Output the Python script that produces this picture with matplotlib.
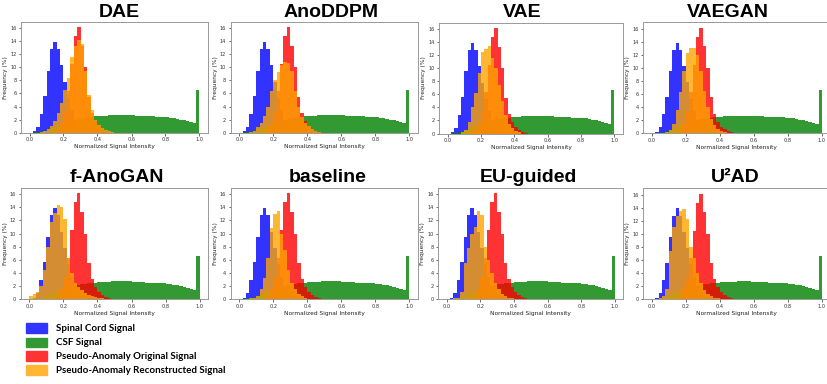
import numpy as np
import matplotlib
matplotlib.use("Agg")
import matplotlib.pyplot as plt
from matplotlib.patches import Rectangle

# ---------------- data (percent per bin, bins of width 0.02 from 0 to 1) ----------------
bin_edges = [round(i * 0.02, 2) for i in range(51)]

spinal_cord = [0.0, 0.2, 0.9, 2.9, 5.6, 9.5, 12.8, 13.9, 12.8, 10.3,
               7.8, 5.3, 3.4, 2.0, 1.1, 0.5, 0.25, 0.1, 0.05, 0.0] + [0.0] * 30

csf = [0.0, 0.05, 0.1, 0.2, 0.3, 0.5, 0.7, 0.9, 1.1, 1.3,
       1.5, 1.7, 1.9, 2.0, 2.15, 2.25, 2.35, 2.4, 2.45, 2.5,
       2.55, 2.6, 2.62, 2.65, 2.68, 2.7, 2.72, 2.72, 2.7, 2.68,
       2.65, 2.62, 2.6, 2.56, 2.52, 2.5, 2.48, 2.45, 2.42, 2.4,
       2.35, 2.3, 2.2, 2.1, 2.0, 1.9, 1.75, 1.6, 1.45, 6.6]

pseudo_original = [0.0] * 7 + [0.2, 0.6, 1.5, 3.3, 6.3, 10.5, 14.8, 16.2, 13.3,
                                10.0, 5.5, 3.0, 1.8, 1.0, 0.6, 0.3, 0.15] + [0.0] * 26

recon_dae = [0.0, 0.0, 0.0, 0.1, 0.3, 0.6, 1.0, 1.8, 3.0, 4.5,
             6.5, 8.3, 11.5, 13.3, 14.2, 13.6, 9.4, 5.8, 3.5, 2.0,
             1.2, 0.7, 0.4, 0.2, 0.1] + [0.0] * 25
recon_anoddpm = [0.0, 0.0, 0.0, 0.1, 0.3, 0.8, 1.5, 2.5, 4.0, 6.3,
                 8.0, 9.3, 10.4, 10.8, 10.6, 9.5, 6.3, 3.9, 2.4, 1.5,
                 1.0, 0.6, 0.3, 0.15] + [0.0] * 26
recon_vae = [0.0, 0.0, 0.0, 0.0, 0.2, 0.6, 1.8, 4.0, 6.2, 9.3,
             12.5, 13.0, 13.4, 11.5, 10.0, 7.5, 5.0, 2.8, 1.5, 0.8,
             0.4, 0.2] + [0.0] * 28
recon_vaegan = [0.0, 0.0, 0.0, 0.0, 0.2, 0.5, 1.5, 3.5, 6.3, 9.5,
                12.3, 13.0, 13.0, 12.0, 9.5, 6.5, 4.0, 2.2, 1.2, 0.6,
                0.3, 0.15] + [0.0] * 28
recon_fanogan = [0.5, 0.7, 1.1, 2.0, 4.5, 8.0, 11.8, 13.2, 14.3, 14.0,
                 12.2, 6.3, 4.0, 2.5, 1.8, 1.3, 0.9, 0.6, 0.4, 0.25,
                 0.15, 0.1] + [0.0] * 28
recon_baseline = [0.0, 0.0, 0.0, 0.1, 0.2, 0.5, 1.5, 3.2, 6.3, 10.9,
                  13.0, 13.5, 10.0, 7.5, 4.5, 2.5, 1.5, 0.8, 0.4, 0.2] + [0.0] * 30
recon_euguided = [0.0, 0.0, 0.1, 0.2, 1.0, 5.5, 7.8, 10.0, 11.0, 13.5,
                  12.8, 8.0, 6.0, 4.0, 2.5, 1.5, 0.8, 0.4, 0.2, 0.1] + [0.0] * 30
recon_u2ad = [0.0, 0.0, 0.2, 0.4, 1.5, 7.4, 11.1, 12.8, 13.5, 13.8,
              12.3, 8.0, 6.3, 4.0, 2.5, 1.4, 0.8, 0.4, 0.2, 0.1] + [0.0] * 30

model_names = ["DAE", "AnoDDPM", "VAE", "VAEGAN",
               "f-AnoGAN", "baseline", "EU-guided", "U²AD"]
reconstructions = [recon_dae, recon_anoddpm, recon_vae, recon_vaegan,
                   recon_fanogan, recon_baseline, recon_euguided, recon_u2ad]

legend_labels = ["Spinal Cord Signal", "CSF Signal",
                 "Pseudo-Anomaly Original Signal", "Pseudo-Anomaly Reconstructed Signal"]
colors = ["blue", "green", "red", "orange"]
x_ticks = [0.0, 0.2, 0.4, 0.6, 0.8, 1.0]
y_ticks = [0, 2, 4, 6, 8, 10, 12, 14, 16]

# ---------------- layout ----------------
W, H = 828, 384
fig = plt.figure(figsize=(W / 100, H / 100), dpi=100)

# axes boxes in pixels: left, right, top, bottom
boxes = [(21, 208, 21.5, 132.7), (230.7, 417.7, 21.5, 132.7),
         (439.3, 622.7, 22.5, 133.5), (643.3, 830.5, 22.3, 133.3),
         (20.7, 208.3, 187.7, 299), (230.7, 418, 187.7, 299),
         (438.3, 623.3, 187.7, 299), (643.3, 830.5, 188.3, 299)]
title_centers = [(119, 17), (330.7, 17), (521.7, 17), (728, 17),
                 (116.7, 182), (328, 182), (528, 182), (735, 182)]

for name, recon, (l, r, t, b), (tx, ty) in zip(model_names, reconstructions, boxes, title_centers):
    ax = fig.add_axes([l / W, 1 - b / H, (r - l) / W, (b - t) / H])
    for series, c in zip([spinal_cord, csf, pseudo_original, recon], colors):
        ax.stairs(series, bin_edges, fill=True, color=c, alpha=0.8, linewidth=0)
    ax.set_xlim(-0.05, 1.05)
    ax.set_ylim(0, 17.0)
    ax.set_xticks(x_ticks)
    ax.set_xticklabels([f"{v:.1f}" for v in x_ticks])
    ax.set_yticks(y_ticks)
    ax.tick_params(labelsize=3.6, length=1.8, width=0.5, pad=1.5, colors="#333333")
    ax.set_xlabel("Normalized Signal Intensity", fontsize=4.2, labelpad=1.5, color="#222222")
    ax.set_ylabel("Frequency (%)", fontsize=4.2, labelpad=1.5, color="#222222")
    for s in ax.spines.values():
        s.set_linewidth(0.7)
        s.set_color("#999999")
    fig.text(tx / W, 1 - ty / H, name, ha="center", va="baseline",
             fontsize=14, fontweight="bold", family="Liberation Sans")

# ---------------- legend ----------------
leg_y = [323.3, 337.7, 351.3, 365.3]
leg_colors = ["#3333FF", "#339933", "#FF3333", "#FFB733"]
for lab, c, y in zip(legend_labels, leg_colors, leg_y):
    fig.patches.append(Rectangle((26 / W, 1 - (y + 9.3) / H), 21.3 / W, 9.3 / H,
                                 transform=fig.transFigure, color=c, zorder=5))
    fig.text(55.5 / W, 1 - (y + 4.8) / H, lab, ha="left", va="center",
             fontsize=7.0, fontweight="bold", family="Lato")

fig.savefig("out.png", dpi=100)
